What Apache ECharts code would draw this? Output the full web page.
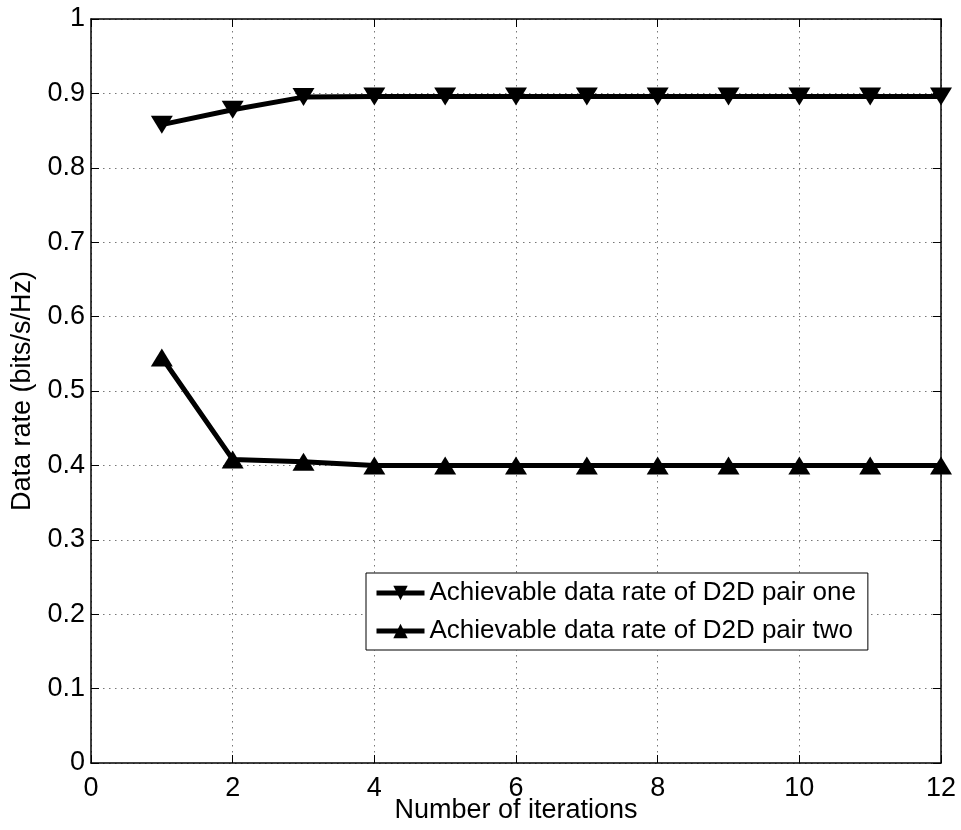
<!DOCTYPE html>
<html>
<head>
<meta charset="utf-8">
<script src="https://cdn.jsdelivr.net/npm/echarts@6/dist/echarts.min.js"></script>
<style>
  html, body { margin: 0; padding: 0; background: #fff; }
  #chart { width: 961px; height: 830px; }
</style>
</head>
<body>
<div id="chart"></div>
<script>
// Iteration index and achieved rates of the two D2D pairs
const iterations = [1, 2, 3, 4, 5, 6, 7, 8, 9, 10, 11, 12];
const rateOne = [0.858, 0.878, 0.895, 0.896, 0.896, 0.896, 0.896, 0.896, 0.896, 0.896, 0.896, 0.896];
const rateTwo = [0.545, 0.408, 0.405, 0.400, 0.400, 0.400, 0.400, 0.400, 0.400, 0.400, 0.400, 0.400];
const seriesNames = ['Achievable data rate of D2D pair one', 'Achievable data rate of D2D pair two'];

const FONT = 'Liberation Sans, Arial, Helvetica, sans-serif';
const triDown = 'path://M0,0 L10,0 L5,9 Z';
const triUp = 'path://M5,0 L10,9 L0,9 Z';

const chart = echarts.init(document.getElementById('chart'), null, { renderer: 'canvas' });

const gridLine = { show: true, lineStyle: { color: '#777', width: 1, type: [1.5, 4.5] } };
const axisLineStyle = { show: true, onZero: false, lineStyle: { color: '#000', width: 1.5 } };
const tickIn = { show: true, inside: true, length: 8, lineStyle: { color: '#000', width: 1 } };

chart.setOption({
  animation: false,
  backgroundColor: '#fff',
  grid: { left: 91, right: 20, top: 19, bottom: 67, containLabel: false, outerBoundsMode: 'none' },
  legend: {
    data: seriesNames,
    orient: 'vertical',
    left: 366,
    top: 573,
    itemWidth: 48,
    itemHeight: 18,
    itemGap: 6,
    padding: [4, 12, 3, 8],
    borderColor: '#000',
    borderWidth: 1,
    backgroundColor: '#fff',
    lineStyle: { width: 5 },
    textStyle: { fontFamily: FONT, fontSize: 26, lineHeight: 32, color: '#000' }
  },
  xAxis: [
    {
      type: 'value', min: 0, max: 12, interval: 2, position: 'bottom',
      name: 'Number of iterations', nameLocation: 'middle', nameGap: 34, nameMoveOverlap: false,
      nameTextStyle: { fontFamily: FONT, fontSize: 27, color: '#000' },
      axisLine: axisLineStyle, axisTick: tickIn,
      axisLabel: { fontFamily: FONT, fontSize: 27, color: '#000', margin: 12 },
      splitLine: gridLine
    },
    {
      type: 'value', min: 0, max: 12, interval: 2, position: 'top',
      axisLine: axisLineStyle, axisTick: tickIn,
      axisLabel: { show: false }, splitLine: { show: false }
    }
  ],
  yAxis: [
    {
      type: 'value', min: 0, max: 1, interval: 0.1, position: 'left',
      name: 'Data rate (bits/s/Hz)', nameLocation: 'middle', nameGap: 55, nameMoveOverlap: false,
      nameTextStyle: { fontFamily: FONT, fontSize: 27, color: '#000' },
      axisLine: axisLineStyle, axisTick: tickIn,
      axisLabel: {
        fontFamily: FONT, fontSize: 27, color: '#000', margin: 6,
        formatter: v => (Math.round(v * 10) / 10).toString()
      },
      splitLine: gridLine
    },
    {
      type: 'value', min: 0, max: 1, interval: 0.1, position: 'right',
      axisLine: axisLineStyle, axisTick: tickIn,
      axisLabel: { show: false }, splitLine: { show: false }
    }
  ],
  series: [
    {
      name: seriesNames[0], type: 'line',
      data: iterations.map((x, i) => [x, rateOne[i]]),
      symbol: triDown, symbolSize: [22, 18], showAllSymbol: true,
      lineStyle: { color: '#000', width: 5 },
      itemStyle: { color: '#000', borderWidth: 0 },
      z: 5
    },
    {
      name: seriesNames[1], type: 'line',
      data: iterations.map((x, i) => [x, rateTwo[i]]),
      symbol: triUp, symbolSize: [22, 18], showAllSymbol: true,
      lineStyle: { color: '#000', width: 5 },
      itemStyle: { color: '#000', borderWidth: 0 },
      z: 5
    }
  ]
});
</script>
</body>
</html>
